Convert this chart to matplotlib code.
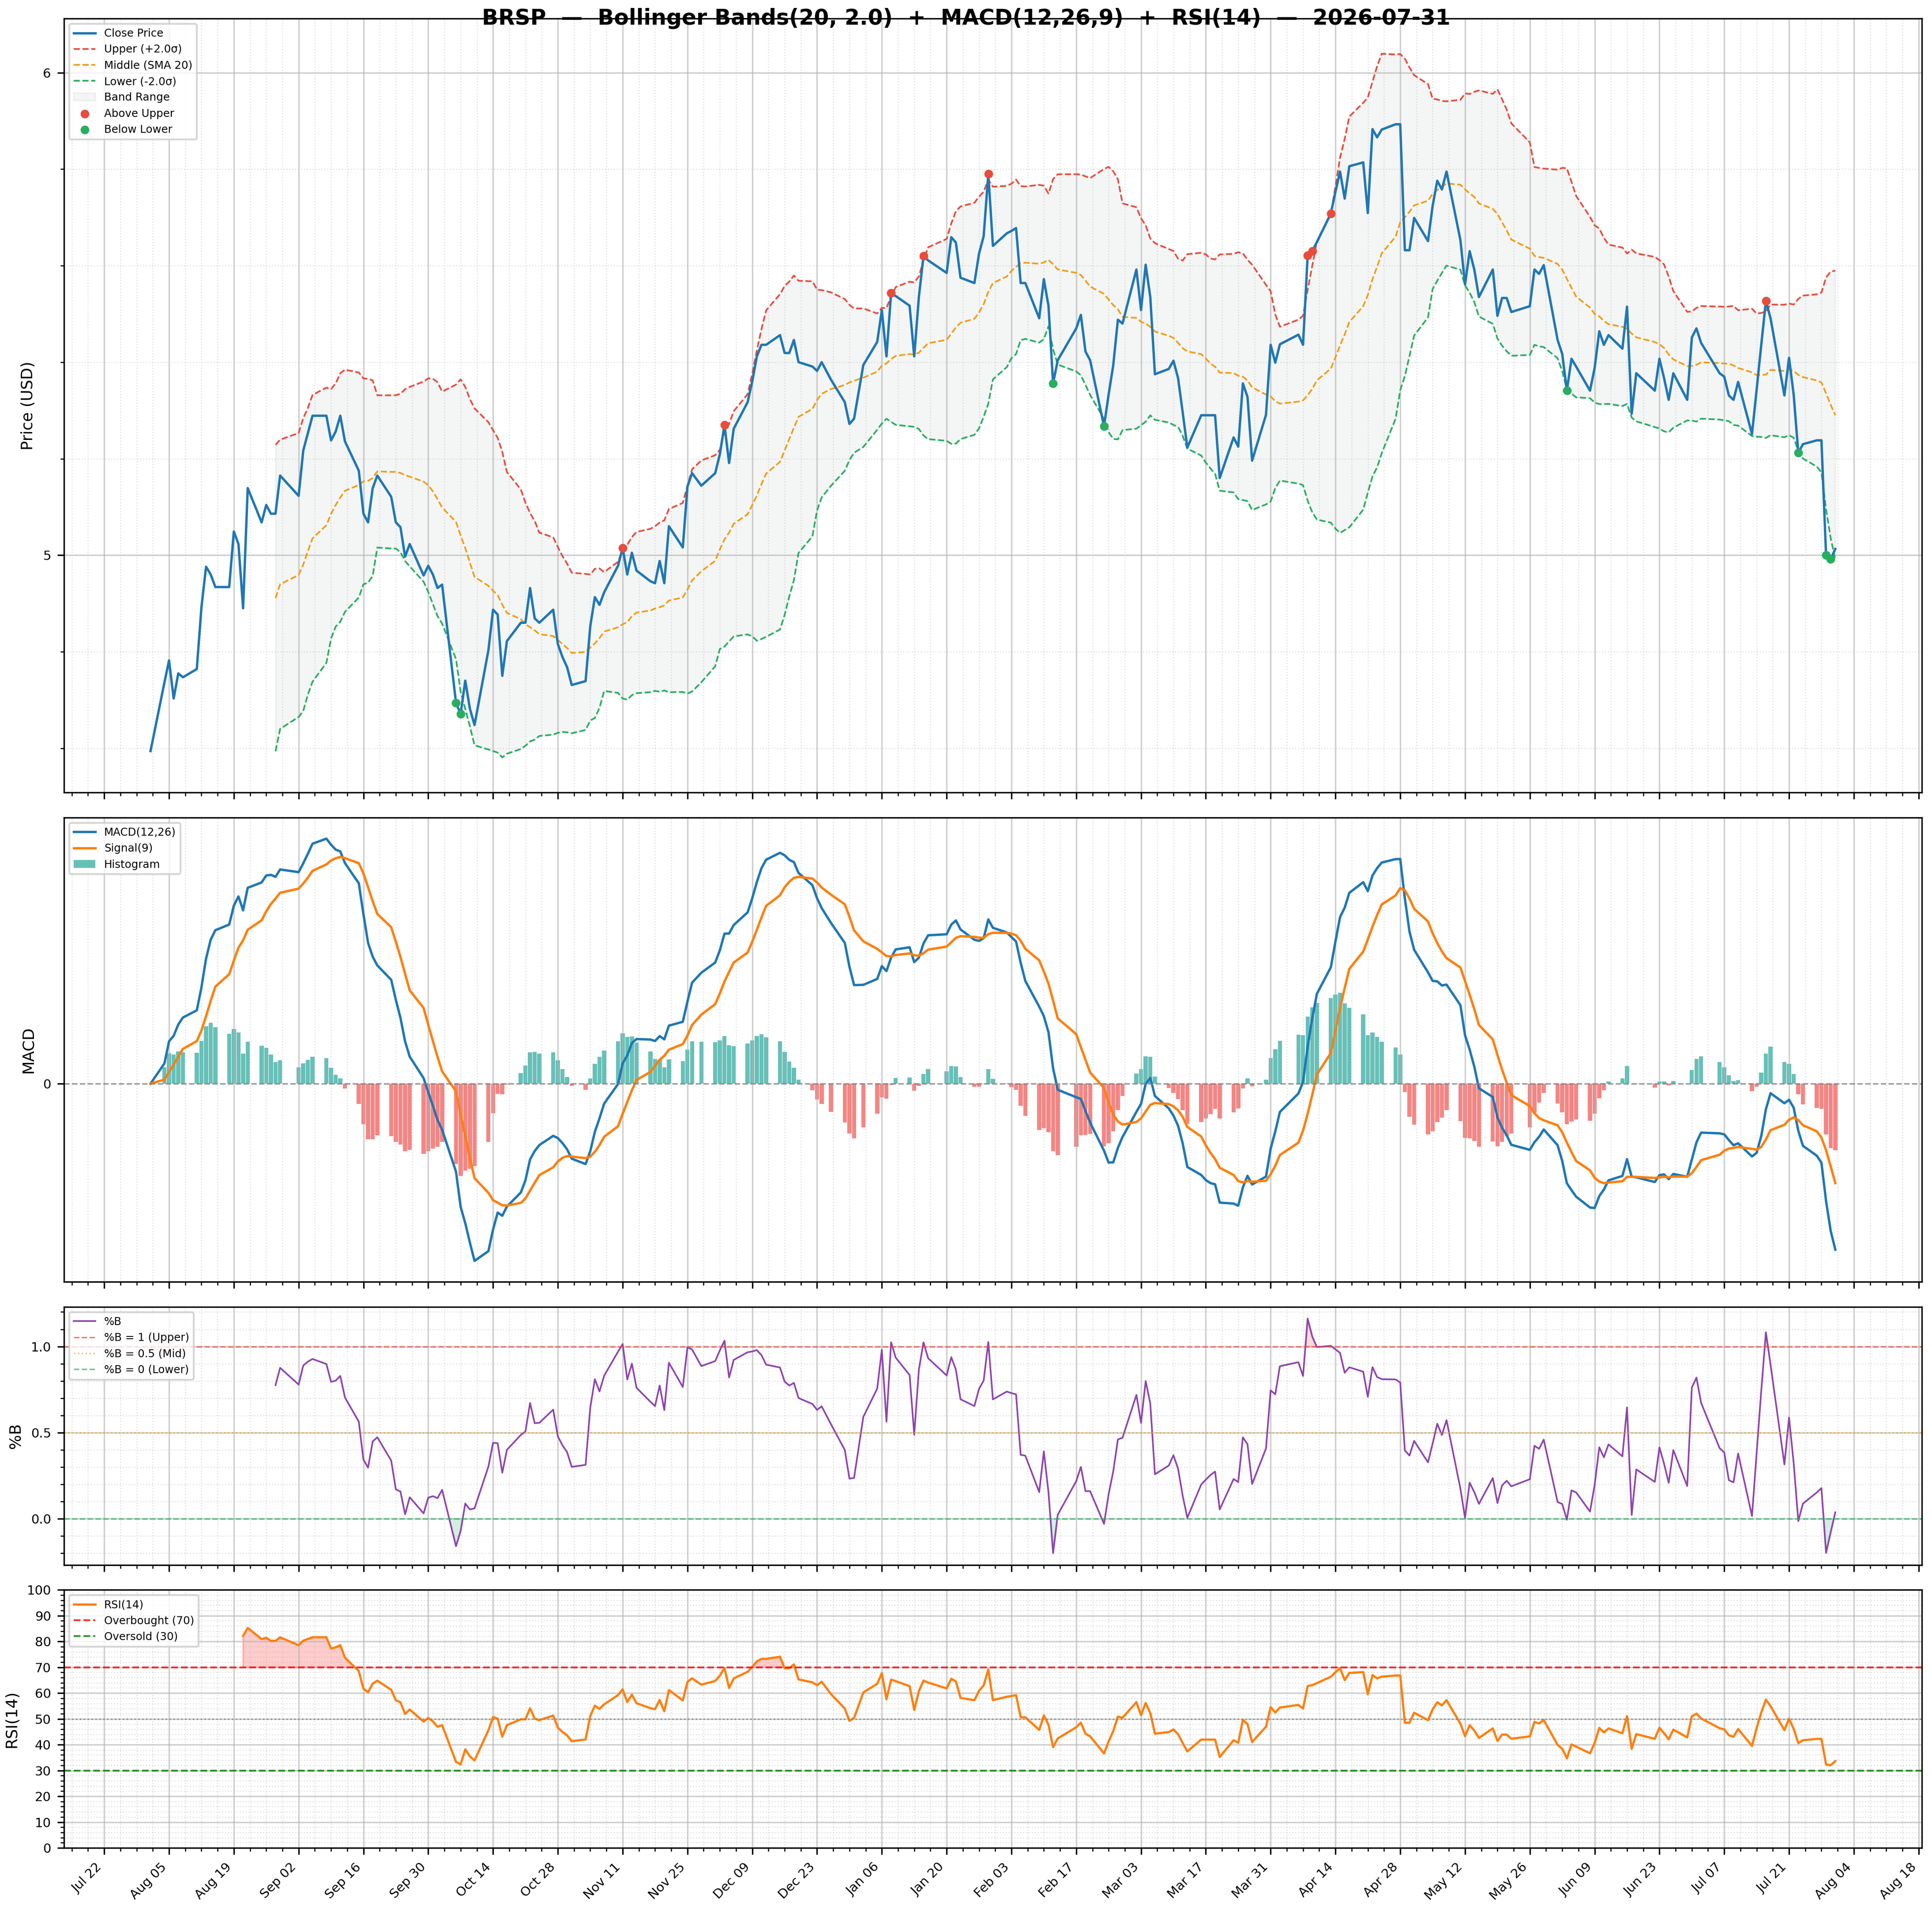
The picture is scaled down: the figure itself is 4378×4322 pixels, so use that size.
import numpy as np
import pandas as pd
import matplotlib
matplotlib.use("Agg")
import matplotlib.pyplot as plt
import matplotlib.dates as mdates
from matplotlib.ticker import AutoMinorLocator, MultipleLocator, FixedLocator

TICKER = "BRSP"
AS_OF = "2026-07-31"
HOLIDAYS = ["2025-09-01", "2025-11-27", "2025-12-25", "2026-01-01", "2026-01-19",
            "2026-02-16", "2026-04-03", "2026-05-25", "2026-06-19", "2026-07-03"]

close_aug = [4.594, 4.736, 4.782, 4.703, 4.755, 4.747, 4.764, 4.892, 4.976, 4.960, 4.934,
             4.934, 5.049, 5.023, 4.890, 5.139, 5.068, 5.104, 5.086, 5.086, 5.165]
close_sep = [5.123, 5.217, 5.253, 5.289, 5.289, 5.238, 5.256, 5.289, 5.236, 5.175, 5.086,
             5.068, 5.139, 5.165, 5.121, 5.068, 5.058, 4.997, 5.023, 4.958, 4.978]
close_oct = [4.960, 4.932, 4.939, 4.694, 4.671, 4.740, 4.682, 4.648, 4.803, 4.887, 4.877,
             4.750, 4.822, 4.860, 4.860, 4.932, 4.869, 4.860, 4.887, 4.816, 4.789, 4.768, 4.731]
close_nov = [4.739, 4.852, 4.913, 4.897, 4.923, 4.978, 5.015, 4.960, 5.005, 4.968, 4.946,
             4.942, 4.988, 4.942, 5.060, 5.016, 5.142, 5.170, 5.144]
close_dec = [5.170, 5.209, 5.270, 5.191, 5.262, 5.317, 5.360, 5.412, 5.436, 5.436, 5.456,
             5.419, 5.419, 5.446, 5.400, 5.391, 5.382, 5.400, 5.364, 5.317, 5.272, 5.283]
close_jan = [5.394, 5.442, 5.508, 5.412, 5.543, 5.537, 5.517, 5.412, 5.535, 5.620, 5.611,
             5.585, 5.659, 5.648, 5.575, 5.564, 5.625, 5.661, 5.790, 5.641]
close_feb = [5.667, 5.672, 5.678, 5.564, 5.564, 5.491, 5.572, 5.517, 5.356, 5.404, 5.470,
             5.498, 5.422, 5.404, 5.267, 5.333, 5.394, 5.488, 5.480]
close_mar = [5.592, 5.508, 5.602, 5.535, 5.375, 5.386, 5.403, 5.367, 5.296, 5.223, 5.290,
             5.290, 5.290, 5.290, 5.160, 5.244, 5.225, 5.356, 5.328, 5.196, 5.291, 5.436]
close_apr = [5.399, 5.437, 5.457, 5.436, 5.621, 5.630, 5.649, 5.708, 5.753, 5.795, 5.739,
             5.806, 5.814, 5.709, 5.883, 5.866, 5.882, 5.893, 5.893, 5.632, 5.632]
close_may = [5.699, 5.651, 5.724, 5.776, 5.758, 5.795, 5.653, 5.561, 5.630, 5.592, 5.535,
             5.592, 5.496, 5.533, 5.533, 5.504, 5.516, 5.592, 5.583, 5.601]
close_jun = [5.446, 5.417, 5.341, 5.407, 5.391, 5.341, 5.388, 5.464, 5.436, 5.456, 5.428,
             5.515, 5.293, 5.377, 5.341, 5.407, 5.367, 5.322, 5.377, 5.322, 5.451]
close_jul = [5.470, 5.440, 5.377, 5.370, 5.331, 5.322, 5.359, 5.251, 5.343, 5.436, 5.527,
             5.491, 5.331, 5.409, 5.333, 5.212, 5.230, 5.238, 5.238, 5.000, 4.992, 5.013]

dates = pd.bdate_range("2025-08-01", AS_OF)
dates = dates[~dates.isin(pd.to_datetime(HOLIDAYS))]
close = pd.Series(close_aug + close_sep + close_oct + close_nov + close_dec + close_jan +
                  close_feb + close_mar + close_apr + close_may + close_jun + close_jul,
                  index=dates, dtype=float)

# indicators
mid = close.rolling(20).mean()
sd = close.rolling(20).std()
upper = mid + 2.0 * sd
lower = mid - 2.0 * sd
pctb = (close - lower) / (upper - lower)
ema12 = close.ewm(span=12, adjust=False).mean()
ema26 = close.ewm(span=26, adjust=False).mean()
macd = ema12 - ema26
signal = macd.ewm(span=9, adjust=False).mean()
hist = macd - signal
delta = close.diff()
gain = delta.clip(lower=0).ewm(alpha=1 / 14, min_periods=14, adjust=False).mean()
loss = (-delta.clip(upper=0)).ewm(alpha=1 / 14, min_periods=14, adjust=False).mean()
rsi = 100 - 100 / (1 + gain / loss)

W, H, DPI = 4378, 4322, 300
fig = plt.figure(figsize=(W / DPI, H / DPI), dpi=DPI)
gs = fig.add_gridspec(4, 1, height_ratios=[3, 1.8, 1, 1], left=145 / W, right=4355 / W,
                      top=1 - 42 / H, bottom=1 - 4188 / H, hspace=0.0568)
ax1 = fig.add_subplot(gs[0])
ax2 = fig.add_subplot(gs[1], sharex=ax1)
ax3 = fig.add_subplot(gs[2], sharex=ax1)
ax4 = fig.add_subplot(gs[3], sharex=ax1)

TICK_FS = 7
LEG_FS = 5.9
LAB_FS = 8.5

# price panel
ax1.plot(dates, close, color="#1f77b4", lw=1.3, label="Close Price", zorder=3)
ax1.plot(dates, upper, ls="--", color="#e74c3c", lw=0.9, label="Upper (+2.0σ)")
ax1.plot(dates, mid, ls="--", color="#f39c12", lw=0.9, label="Middle (SMA 20)")
ax1.plot(dates, lower, ls="--", color="#27ae60", lw=0.9, label="Lower (-2.0σ)")
ax1.fill_between(dates, lower, upper, color="#95a5a6", alpha=0.1, label="Band Range")
above = close > upper
below = close < lower
ax1.scatter(dates[above], close[above], color="#e74c3c", s=14, zorder=5, label="Above Upper")
ax1.scatter(dates[below], close[below], color="#27ae60", s=14, zorder=5, label="Below Lower")
ax1.set_ylabel("Price (USD)", fontsize=LAB_FS)
ax1.yaxis.set_major_locator(MultipleLocator(1.0))
ax1.yaxis.set_minor_locator(AutoMinorLocator(5))
ax1.legend(loc="upper left", fontsize=LEG_FS)

# MACD panel
ax2.plot(dates, macd, color="#1f77b4", lw=1.3, label="MACD(12,26)")
ax2.plot(dates, signal, color="#ff7f0e", lw=1.3, label="Signal(9)")
bar_colors = ["#26a69a" if v >= 0 else "#ef5350" for v in hist]
ax2.bar(dates, hist, width=0.9, color=bar_colors, alpha=0.7, label="Histogram")
ax2.axhline(0, color="gray", ls="--", lw=0.8, alpha=0.8)
ax2.set_ylabel("MACD", fontsize=LAB_FS)
ax2.yaxis.set_major_locator(FixedLocator([0]))
ax2.legend(loc="upper left", fontsize=LEG_FS)

# %B panel
ax3.plot(dates, pctb, color="#8e44ad", lw=0.9, label="%B")
ax3.axhline(1.0, color="#e74c3c", ls="--", lw=0.8, alpha=0.7, label="%B = 1 (Upper)")
ax3.axhline(0.5, color="#f39c12", ls=":", lw=0.8, alpha=0.7, label="%B = 0.5 (Mid)")
ax3.axhline(0.0, color="#27ae60", ls="--", lw=0.8, alpha=0.7, label="%B = 0 (Lower)")
ax3.fill_between(dates, pctb, 1.0, where=pctb > 1.0, color="#e74c3c", alpha=0.2, interpolate=True)
ax3.fill_between(dates, pctb, 0.0, where=pctb < 0.0, color="#27ae60", alpha=0.2, interpolate=True)
ax3.set_ylabel("%B", fontsize=LAB_FS)
ax3.yaxis.set_major_locator(MultipleLocator(0.5))
ax3.yaxis.set_minor_locator(AutoMinorLocator(5))
ax3.legend(loc="upper left", fontsize=LEG_FS)

# RSI panel
ax4.plot(dates, rsi, color="#ff7f0e", lw=1.2, label="RSI(14)")
ax4.axhline(70, color="red", ls="--", lw=1.0, alpha=0.8, label="Overbought (70)")
ax4.axhline(30, color="green", ls="--", lw=1.0, alpha=0.8, label="Oversold (30)")
ax4.axhline(50, color="gray", ls=":", lw=0.8, alpha=0.8)
ax4.fill_between(dates, rsi, 70, where=rsi >= 70, color="red", alpha=0.2, interpolate=True)
ax4.fill_between(dates, rsi, 30, where=rsi <= 30, color="green", alpha=0.2, interpolate=True)
ax4.set_ylim(0, 100)
ax4.yaxis.set_major_locator(MultipleLocator(10))
ax4.yaxis.set_minor_locator(AutoMinorLocator(5))
ax4.set_ylabel("RSI(14)", fontsize=LAB_FS)
ax4.legend(loc="upper left", fontsize=LEG_FS)

ax4.xaxis.set_major_locator(
    FixedLocator(mdates.date2num(pd.date_range("2025-07-22", "2026-08-18", freq="14D"))))
ax4.xaxis.set_major_formatter(mdates.DateFormatter("%b %d"))
ax4.xaxis.set_minor_locator(AutoMinorLocator(4))

for ax in (ax1, ax2, ax3, ax4):
    ax.tick_params(labelsize=TICK_FS)
    if ax is ax2:
        ax.grid(True, axis="x", which="major", color="#b0b0b0", alpha=0.6, lw=0.8)
        ax.grid(True, axis="x", which="minor", ls=":", color="#b0b0b0", alpha=0.4, lw=0.6)
    else:
        ax.grid(True, which="major", color="#b0b0b0", alpha=0.6, lw=0.8)
        ax.grid(True, which="minor", ls=":", color="#b0b0b0", alpha=0.4, lw=0.6)
    if ax is not ax4:
        plt.setp(ax.get_xticklabels(), visible=False)

plt.setp(ax4.get_xticklabels(), rotation=45, ha="right")

fig.text(0.5, 1 - 42 / H,
         f"{TICKER}  —  Bollinger Bands(20, 2.0)  +  MACD(12,26,9)  +  RSI(14)  —  {AS_OF}",
         ha="center", va="center", fontsize=11.7, fontweight="bold")

fig.savefig("out.png", dpi=DPI)
